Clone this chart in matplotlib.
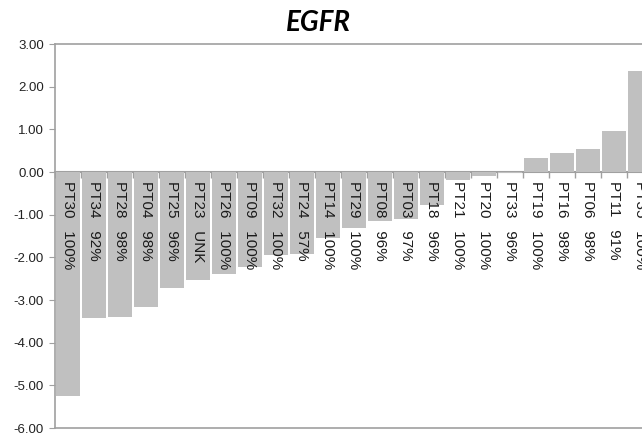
import matplotlib
matplotlib.use("Agg")
import matplotlib.pyplot as plt
import numpy as np
from matplotlib.ticker import FormatStrFormatter

plt.rcParams['font.family'] = ['Liberation Sans', 'DejaVu Sans']
plt.rcParams['axes.unicode_minus'] = False

patients = ["PT30", "PT34", "PT28", "PT04", "PT25", "PT23", "PT26", "PT09", "PT32", "PT24",
            "PT14", "PT29", "PT08", "PT03", "PT18", "PT21", "PT20", "PT33", "PT19", "PT16",
            "PT06", "PT11", "PT35"]
purity = ["100%", "92%", "98%", "98%", "96%", "UNK", "100%", "100%", "100%", "57%",
          "100%", "100%", "96%", "97%", "96%", "100%", "100%", "96%", "100%", "98%",
          "98%", "91%", "100%"]
values = [-5.24, -3.42, -3.39, -3.16, -2.72, -2.53, -2.38, -2.23, -1.94, -1.92,
          -1.55, -1.31, -1.16, -1.11, -0.77, -0.19, -0.09, -0.02, 0.33, 0.44,
          0.55, 0.95, 2.37]
yticks = [3, 2, 1, 0, -1, -2, -3, -4, -5, -6]

W, H = 642, 436
fig = plt.figure(figsize=(W / 100, H / 100), dpi=100)
left_px, right_px, top_px, bot_px = 55, 700, 44, 428
ax = fig.add_axes([left_px / W, 1 - bot_px / H, (right_px - left_px) / W, (bot_px - top_px) / H])

x = np.arange(len(values))
ax.bar(x, values, width=0.92, color="#c0c0c0", edgecolor="none", zorder=2)
ax.set_xlim(-0.5, -0.5 + (right_px - left_px) / 26.0)
ax.set_ylim(-6, 3)
ax.set_yticks(yticks)
ax.yaxis.set_major_formatter(FormatStrFormatter('%.2f'))
ax.set_xticks([])

grey = "#a0a0a0"
for side in ["left", "top", "bottom"]:
    ax.spines[side].set_color(grey)
    ax.spines[side].set_linewidth(1.2)
ax.spines["right"].set_visible(False)
ax.tick_params(axis='y', direction='out', length=4, color=grey, labelsize=9.5,
               labelcolor="#222222", pad=4)

# zero axis line with category ticks
sec = ax.secondary_xaxis(6 / 9)
sec.xaxis.set_ticks_position('bottom')
sec.set_xticks(np.arange(-0.5, len(values) + 1.5, 1.0))
sec.set_xticklabels([])
sec.tick_params(axis='x', direction='out', length=4, color=grey, width=1.0)
for sp in sec.spines.values():
    sp.set_color(grey)
    sp.set_linewidth(1.5)

for xi, pid, pur in zip(x, patients, purity):
    ax.text(xi, -0.22, f"{pid}   {pur}", rotation=270, ha='center', va='top',
            fontsize=11, color="#1a1a1a", zorder=3)

fig.text(318 / W, 1 - 23 / H, "EGFR", ha='center', va='center', fontsize=20,
         fontweight='bold', fontstyle='italic',
         family=['Lato', 'Open Sans', 'Liberation Sans', 'DejaVu Sans'])

fig.savefig("out.png", dpi=100)
